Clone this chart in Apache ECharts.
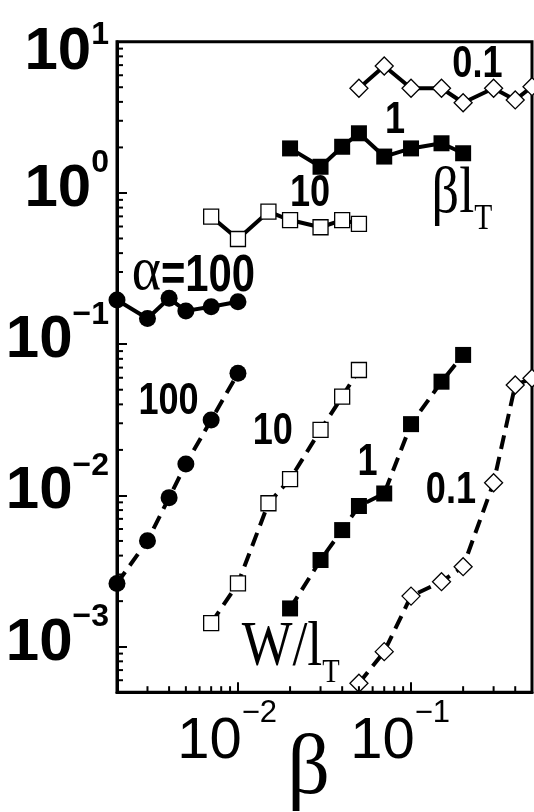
<!DOCTYPE html>
<html>
<head>
<meta charset="utf-8">
<title>W/lT and βlT versus β</title>
<script src="https://cdn.jsdelivr.net/npm/echarts@6.0.0/dist/echarts.min.js"></script>
<style>
  html, body { margin: 0; padding: 0; background: #fff; }
  #chart { width: 534px; height: 812px; }
</style>
</head>
<body>
<div id="chart"></div>
<script>
// β sampled for each α
const betaAlpha100 = [0.002, 0.003, 0.004, 0.005, 0.007, 0.01];
const betaAlpha10 = [0.007, 0.01, 0.015, 0.02, 0.03, 0.04, 0.05];
const betaAlpha1 = [0.02, 0.03, 0.04, 0.05, 0.07, 0.1, 0.15, 0.2];
const betaAlpha01 = [0.05, 0.07, 0.1, 0.15, 0.2, 0.3, 0.4, 0.5];

// β·lT (solid curves)
const blTAlpha100 = [0.196, 0.148, 0.201, 0.166, 0.177, 0.191];
const blTAlpha10 = [0.697, 0.496, 0.752, 0.662, 0.593, 0.662, 0.624];
const blTAlpha1 = [1.97, 1.49, 2.02, 2.48, 1.74, 1.97, 2.13, 1.83];
const blTAlpha01 = [4.92, 6.91, 4.92, 4.92, 3.95, 4.92, 4.12, 5.04];

// W/lT (dashed curves)
const wlTAlpha100 = [0.00262, 0.00502, 0.00967, 0.01614, 0.0315, 0.0642];
const wlTAlpha10 = [0.00143, 0.00262, 0.00888, 0.0128, 0.0271, 0.0450, 0.0675];
const wlTAlpha1 = [0.00179, 0.00374, 0.0059, 0.00851, 0.0103, 0.0296, 0.0565, 0.0849];
const wlTAlpha01 = [0.000573, 0.000927, 0.00216, 0.00269, 0.00338, 0.01213, 0.0537, 0.0595];

// axis ranges and minor tick positions
const betaRange = [0.002, 0.5];
const valueRange = [5e-4, 10];
const betaMinorTicks = [0.003, 0.004, 0.005, 0.006, 0.007, 0.008, 0.009,
  0.02, 0.03, 0.04, 0.05, 0.06, 0.07, 0.08, 0.09, 0.2, 0.3, 0.4];
const valueMinorTicks = [6e-4, 7e-4, 8e-4, 9e-4,
  0.002, 0.003, 0.004, 0.005, 0.006, 0.007, 0.008, 0.009,
  0.02, 0.03, 0.04, 0.05, 0.06, 0.07, 0.08, 0.09,
  0.2, 0.3, 0.4, 0.5, 0.6, 0.7, 0.8, 0.9,
  2, 3, 4, 5, 6, 7, 8, 9];

const INK = '#000';

function fontAvailable(name) {
  const ctx = document.createElement('canvas').getContext('2d');
  ctx.font = '40px monospace';
  const w0 = ctx.measureText('10ABCabc').width;
  ctx.font = `40px '${name}', monospace`;
  return ctx.measureText('10ABCabc').width !== w0;
}
const HAS_NARROW = fontAvailable('Liberation Sans Narrow');
const SANS = HAS_NARROW ? "'Liberation Sans Narrow', 'Liberation Sans', Arial, sans-serif"
                        : "'Liberation Sans', Arial, sans-serif";
const SANS_SX = HAS_NARROW ? 1 : 0.82;
const SERIF = "'Liberation Serif', 'Times New Roman', serif";

const markers = {
  dot: { symbol: 'circle', symbolSize: 17, itemStyle: { color: INK } },
  box: { symbol: 'rect', symbolSize: 16, itemStyle: { color: INK } },
  openBox: { symbol: 'rect', symbolSize: 15, itemStyle: { color: '#fff', borderColor: INK, borderWidth: 1.3 } },
  openDiamond: { symbol: 'diamond', symbolSize: 18, itemStyle: { color: '#fff', borderColor: INK, borderWidth: 1.3 } }
};
const solidLine = { color: INK, width: 4, type: 'solid' };
const dashedLine = { color: INK, width: 4, type: [14, 8] };

function curve(name, betas, values, marker, line) {
  return Object.assign({
    name: name,
    type: 'line',
    data: betas.map((b, i) => [b, values[i]]),
    lineStyle: line,
    showSymbol: true,
    showAllSymbol: true,
    clip: false,
    silent: true,
    animation: false,
    z: 3
  }, markers[marker]);
}

// short inward ticks between the decades
function minorTicks(values, onBetaAxis) {
  return {
    type: 'custom',
    silent: true,
    animation: false,
    z: 4,
    data: values.map(v => onBetaAxis ? [v, valueRange[0]] : [betaRange[0], v]),
    renderItem: function (params, api) {
      const p = api.coord([api.value(0), api.value(1)]);
      const shape = onBetaAxis
        ? { x1: p[0], y1: p[1], x2: p[0], y2: p[1] - 6 }
        : { x1: p[0], y1: p[1], x2: p[0] + 6, y2: p[1] };
      return { type: 'line', shape: shape, style: { stroke: INK, lineWidth: 2 } };
    }
  };
}

function decadeExponent(v) {
  const e = Math.log10(v);
  const r = Math.round(e);
  return Math.abs(e - r) < 1e-6 ? r : null;
}
function expText(r) { return r < 0 ? '\u2212' + (-r) : String(r); }

// rich-text token: height sets the box used for top/bottom placement inside the line
function tok(size, box, valign, bold) {
  return { fontFamily: SANS, fontWeight: bold ? 'bold' : 'normal', fontSize: size,
           height: box, lineHeight: box, verticalAlign: valign, color: INK };
}

const chart = echarts.init(document.getElementById('chart'), null, { renderer: 'canvas' });

chart.setOption({
  backgroundColor: '#fff',
  animation: false,
  grid: {
    left: 117, right: 2, top: 41.7, bottom: 119.8,
    outerBoundsMode: 'none',
    containLabel: false,
    show: true, borderColor: INK, borderWidth: 3, backgroundColor: 'transparent'
  },
  xAxis: {
    type: 'log', logBase: 10, min: betaRange[0], max: betaRange[1],
    name: 'β', nameLocation: 'middle', nameGap: 37, nameMoveOverlap: false,
    nameTextStyle: { fontFamily: SERIF, fontSize: 84, color: INK, padding: [0, 32, 0, 0] },
    axisLine: { lineStyle: { color: INK, width: 3 } },
    axisTick: { inside: true, length: 10, lineStyle: { color: INK, width: 2 } },
    splitLine: { show: false },
    axisLabel: {
      margin: 8,
      padding: [0, 22, 0, 0],
      formatter: function (v) {
        const r = decadeExponent(v);
        return r === null ? '' : '{p| }{b|10}{s|' + expText(r) + '}';
      },
      rich: {
        p: { fontSize: 1, height: 90, lineHeight: 90 },
        b: tok(58, 83, 'top', false),
        s: tok(31, 26, 'top', false)
      }
    }
  },
  yAxis: {
    type: 'log', logBase: 10, min: valueRange[0], max: valueRange[1],
    axisLine: { lineStyle: { color: INK, width: 3 } },
    axisTick: { inside: true, length: 10, lineStyle: { color: INK, width: 2 } },
    splitLine: { show: false },
    axisLabel: {
      margin: 8,
      align: 'right',
      formatter: function (v) {
        const r = decadeExponent(v);
        if (r === null) return '';
        return r === 1
          ? '{p| }{b1|10}{s1|' + expText(r) + '}'
          : '{p| }{b|10}{s|' + expText(r) + '}';
      },
      rich: {
        p: { fontSize: 1, height: 100, lineHeight: 100 },
        b: tok(60, 93, 'top', true),
        s: tok(32, 41, 'top', true),
        b1: tok(60, 78, 'bottom', true),
        s1: tok(32, 86, 'top', true)
      }
    }
  },
  series: [
    curve('βlT, α=100', betaAlpha100, blTAlpha100, 'dot', solidLine),
    curve('W/lT, α=100', betaAlpha100, wlTAlpha100, 'dot', dashedLine),
    curve('βlT, α=10', betaAlpha10, blTAlpha10, 'openBox', solidLine),
    curve('W/lT, α=10', betaAlpha10, wlTAlpha10, 'openBox', dashedLine),
    curve('βlT, α=1', betaAlpha1, blTAlpha1, 'box', solidLine),
    curve('W/lT, α=1', betaAlpha1, wlTAlpha1, 'box', dashedLine),
    curve('βlT, α=0.1', betaAlpha01, blTAlpha01, 'openDiamond', solidLine),
    curve('W/lT, α=0.1', betaAlpha01, wlTAlpha01, 'openDiamond', dashedLine),
    minorTicks(betaMinorTicks, true),
    minorTicks(valueMinorTicks, false)
  ]
});

// curve labels, anchored in data space
const numberLabels = [
  { text: '0.1', at: [0.2418, 7.01] },
  { text: '1', at: [0.0807, 2.99] },
  { text: '10', at: [0.0261, 0.984] },
  { text: '100', at: [0.00397, 0.0417] },
  { text: '10', at: [0.0159, 0.0264] },
  { text: '1', at: [0.056, 0.0165] },
  { text: '0.1', at: [0.170, 0.0107] }
];
// composite labels: anchor is the left end of the baseline
const compositeLabels = [
  { at: [0.002432, 0.2148], parts: [
    { t: 'α', family: SERIF, size: 62, weight: 'normal', sx: 0.9, dy: 0 },
    { t: '=100', family: SANS, size: 51, weight: 'bold', sx: SANS_SX, dy: 0 }
  ] },
  { at: [0.1315, 0.697], parts: [
    { t: 'βl', family: SERIF, size: 66, weight: 'normal', sx: 0.82, dy: 0 },
    { t: 'T', family: SERIF, size: 36, weight: 'normal', sx: 0.82, dy: 15 }
  ] },
  { at: [0.0105, 7.01e-4], parts: [
    { t: 'W/l', family: SERIF, size: 64, weight: 'normal', sx: 0.84, dy: 0 },
    { t: 'T', family: SERIF, size: 34, weight: 'normal', sx: 0.84, dy: 15 }
  ] }
];

const measureCtx = document.createElement('canvas').getContext('2d');
function fontString(p) { return `${p.weight} ${p.size}px ${p.family}`; }
const MIDDLE_OFFSET = 0.34; // em-box middle above the alphabetic baseline

const graphics = [];
numberLabels.forEach(function (lab) {
  const px = chart.convertToPixel({ gridIndex: 0 }, lab.at);
  graphics.push({
    type: 'text', x: px[0], y: px[1], scaleX: SANS_SX, silent: true, z: 10,
    style: { text: lab.text, fill: INK, font: `bold 44px ${SANS}`, align: 'center', verticalAlign: 'middle' }
  });
});
compositeLabels.forEach(function (lab) {
  const px = chart.convertToPixel({ gridIndex: 0 }, lab.at);
  let x = px[0];
  lab.parts.forEach(function (p) {
    measureCtx.font = fontString(p);
    const w = measureCtx.measureText(p.t).width * p.sx;
    graphics.push({
      type: 'text', x: x, y: px[1] + p.dy - MIDDLE_OFFSET * p.size, scaleX: p.sx, silent: true, z: 10,
      style: { text: p.t, fill: INK, font: fontString(p), align: 'left', verticalAlign: 'middle' }
    });
    x += w;
  });
});
chart.setOption({ graphic: graphics });
</script>
</body>
</html>
